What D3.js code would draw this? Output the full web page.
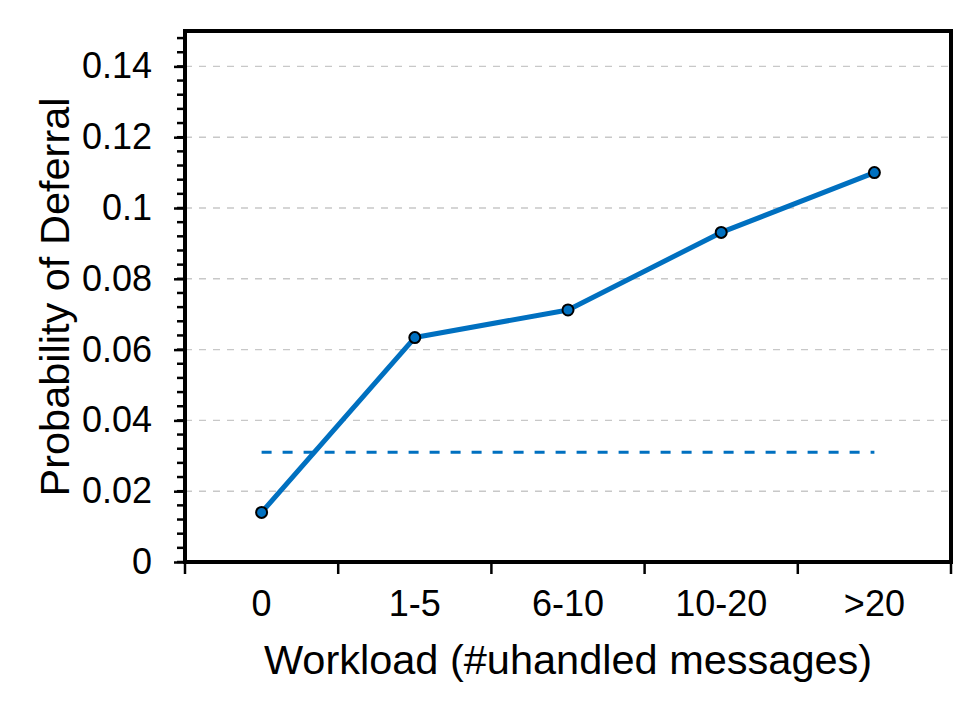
<!DOCTYPE html>
<html>
<head>
<meta charset="utf-8">
<script src="https://cdn.jsdelivr.net/npm/d3@7"></script>
<style>
  body { margin: 0; background: #fff; }
  svg { display: block; font-family: "Liberation Sans", Arial, sans-serif; }
</style>
</head>
<body>
<div id="chart"></div>
<script>
const categories = ['0', '1-5', '6-10', '10-20', '>20'];
const deferral = [0.014, 0.0634, 0.0712, 0.0931, 0.110];
const baseline = 0.031;
const yTicks = [0, 0.02, 0.04, 0.06, 0.08, 0.1, 0.12, 0.14];
const yTickLabels = ['0', '0.02', '0.04', '0.06', '0.08', '0.1', '0.12', '0.14'];

const width = 975, height = 708;
const margin = { top: 31, right: 24, bottom: 146, left: 185 };

const svg = d3.select('#chart')
  .append('svg')
  .attr('width', width)
  .attr('height', height);

const x = d3.scaleBand()
  .domain(categories)
  .range([margin.left, width - margin.right]);

const y = d3.scaleLinear()
  .domain([0, 0.15])
  .range([height - margin.bottom, margin.top]);

const blue = '#0070c0';

// grid
svg.append('g')
  .selectAll('line')
  .data(yTicks.filter(d => d > 0))
  .enter()
  .append('line')
  .attr('x1', margin.left)
  .attr('x2', width - margin.right)
  .attr('y1', d => y(d))
  .attr('y2', d => y(d))
  .attr('stroke', '#c8c8c8')
  .attr('stroke-width', 1.4)
  .attr('stroke-dasharray', '7,7');

// minor y ticks
const minor = d3.range(0, 0.1501, 0.004);
svg.append('g')
  .selectAll('line')
  .data(minor)
  .enter()
  .append('line')
  .attr('x1', margin.left - 8)
  .attr('x2', margin.left)
  .attr('y1', d => y(d))
  .attr('y2', d => y(d))
  .attr('stroke', '#000')
  .attr('stroke-width', 2.5);

// y axis
const yAxis = d3.axisLeft(y)
  .tickValues(yTicks)
  .tickFormat((d, i) => yTickLabels[i])
  .tickSize(11)
  .tickPadding(22);

svg.append('g')
  .attr('transform', 'translate(' + margin.left + ',0)')
  .call(yAxis)
  .call(g => g.select('.domain').remove())
  .call(g => g.selectAll('line').attr('stroke-width', 2.5))
  .call(g => g.selectAll('text')
    .attr('font-size', 36)
    .attr('fill', '#000')
    .attr('font-family', '"Liberation Sans", Arial, sans-serif'));

// x axis
const xTicks = categories.map(c => x(c)).concat([x.range()[1]]);
svg.append('g')
  .selectAll('line')
  .data(xTicks)
  .enter()
  .append('line')
  .attr('x1', d => d)
  .attr('x2', d => d)
  .attr('y1', y(0))
  .attr('y2', y(0) + 12)
  .attr('stroke', '#000')
  .attr('stroke-width', 2.5);

svg.append('g')
  .selectAll('text')
  .data(categories)
  .enter()
  .append('text')
  .attr('x', d => x(d) + x.bandwidth() / 2)
  .attr('y', y(0) + 54)
  .attr('text-anchor', 'middle')
  .attr('font-size', 36)
  .text(d => d);

// frame
svg.append('rect')
  .attr('x', margin.left)
  .attr('y', margin.top)
  .attr('width', width - margin.right - margin.left)
  .attr('height', height - margin.bottom - margin.top)
  .attr('fill', 'none')
  .attr('stroke', '#000')
  .attr('stroke-width', 4);

// baseline dashed
svg.append('line')
  .attr('x1', x(categories[0]) + x.bandwidth() / 2)
  .attr('x2', x(categories[categories.length - 1]) + x.bandwidth() / 2)
  .attr('y1', y(baseline))
  .attr('y2', y(baseline))
  .attr('stroke', blue)
  .attr('stroke-width', 2.8)
  .attr('stroke-dasharray', '10,11');

// series
const line = d3.line()
  .x((d, i) => x(categories[i]) + x.bandwidth() / 2)
  .y(d => y(d));

svg.append('path')
  .datum(deferral)
  .attr('d', line)
  .attr('fill', 'none')
  .attr('stroke', blue)
  .attr('stroke-width', 5)
  .attr('stroke-linejoin', 'round');

svg.append('g')
  .selectAll('circle')
  .data(deferral)
  .enter()
  .append('circle')
  .attr('cx', (d, i) => x(categories[i]) + x.bandwidth() / 2)
  .attr('cy', d => y(d))
  .attr('r', 5.5)
  .attr('fill', blue)
  .attr('stroke', '#000')
  .attr('stroke-width', 2);

// axis titles
svg.append('text')
  .attr('x', (margin.left + width - margin.right) / 2)
  .attr('y', 674)
  .attr('text-anchor', 'middle')
  .attr('font-size', 41.5)
  .text('Workload (#uhandled messages)');

svg.append('text')
  .attr('transform', 'translate(69,' + 297 + ') rotate(-90)')
  .attr('text-anchor', 'middle')
  .attr('font-size', 41.5)
  .text('Probability of Deferral');
</script>
</body>
</html>
